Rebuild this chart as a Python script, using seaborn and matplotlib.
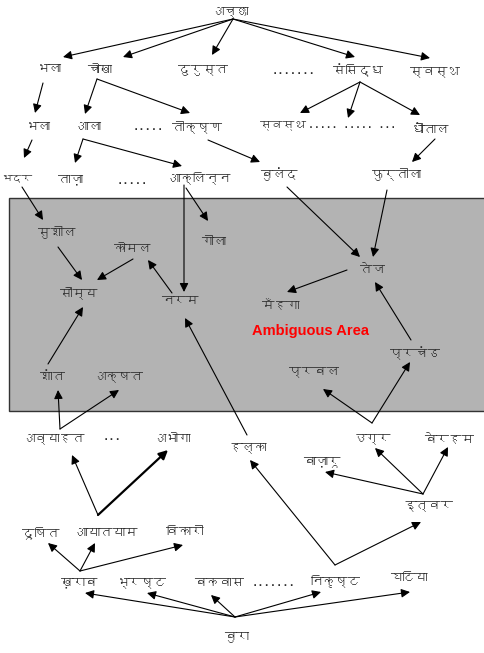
import matplotlib
matplotlib.use('Agg')
import matplotlib.pyplot as plt
import matplotlib.patches as mpatches
from matplotlib import font_manager
from matplotlib.ft2font import FT2Font
import seaborn as sns

# Words of the diagram and where they sit (pixel units of the original picture)
words = ['अच्छा', 'भला', 'चोखा', 'दुरुस्त', '.......', 'संसिद्ध', 'स्वस्थ',
         'भला', 'आला', '.....', 'तीक्ष्ण', 'स्वस्थ', '..... ..... ...', 'धौंताल',
         'भद्र', 'ताज़ा', '.....', 'आक्लिन्न', 'बुलंद', 'फुर्तीला',
         'सुशील', 'कोमल', 'गीला', 'सौम्य', 'नरम', 'तेज', 'मँहगा',
         'प्रचंड', 'प्रबल', 'शांत', 'अक्षत',
         'अव्याहत', '...', 'अभोगा', 'हल्का', 'उग्र', 'बेरहम', 'बाज़ारू', 'इत्वर',
         'दूषित', 'आयातयाम', 'विकारी',
         'ख़राब', 'भ्रष्ट', 'बकवास', '.......', 'निकृष्ट', 'घटिया', 'बुरा']
word_x = [230, 49, 100, 203, 293, 358, 435,
          38, 89, 148, 197, 283, 352, 430,
          17, 70, 132, 200, 279, 397,
          57, 133, 214, 79, 180, 372, 281,
          415, 314, 52, 118,
          53, 112, 172, 248, 372, 449, 322, 428,
          41, 107, 185,
          80, 142, 219, 274, 335, 409, 237]
word_y = [12, 70, 70, 70, 70, 70, 72,
          128, 127, 127, 127, 125, 125, 130,
          178, 180, 181, 178, 174, 174,
          232, 249, 242, 293, 302, 270, 305,
          353, 372, 377, 377,
          439, 437, 439, 448, 439, 439, 462, 506,
          533, 533, 532,
          583, 583, 583, 583, 581, 578, 637]

# Arrows: tail and head points
arrow_x0 = [233, 233, 233, 233, 233, 43, 97, 97, 360, 360, 360, 32, 83, 83, 208, 435,
            22, 184, 186, 287, 387, 58, 133, 172, 347, 411, 48, 60, 60, 247, 372, 372,
            98, 98, 423, 423, 423, 80, 80, 80, 335, 335, 235, 235, 235, 235, 235]
arrow_y0 = [19, 19, 19, 19, 19, 83, 79, 79, 82, 82, 82, 140, 139, 139, 140, 139,
            187, 185, 188, 187, 190, 247, 259, 293, 270, 340, 364, 429, 429, 435, 423, 423,
            515, 515, 494, 494, 494, 571, 571, 571, 565, 565, 617, 617, 617, 617, 617]
arrow_x1 = [63, 123, 212, 355, 430, 35, 85, 190, 300, 348, 420, 24, 75, 182, 260, 412,
            43, 184, 208, 360, 373, 82, 97, 148, 287, 375, 83, 58, 119, 185, 323, 410,
            72, 168, 325, 375, 448, 48, 95, 183, 250, 421, 85, 147, 211, 321, 410]
arrow_y1 = [57, 57, 55, 57, 58, 113, 114, 113, 113, 118, 115, 158, 163, 166, 162, 162,
            220, 292, 221, 257, 257, 280, 280, 260, 292, 282, 307, 390, 390, 318, 389, 362,
            455, 450, 472, 448, 447, 543, 543, 545, 460, 522, 593, 593, 595, 592, 592]
thick_arrows = [33]

area_label = 'Ambiguous Area'
area_x, area_y = 311, 331


def devanagari_family():
    for f in font_manager.fontManager.ttflist:
        try:
            if 0x0905 in FT2Font(f.fname).get_charmap():
                return f.name
        except Exception:
            pass
    return None


sns.set_theme(style='white')
deva = devanagari_family()
families = [deva, 'DejaVu Sans'] if deva else ['DejaVu Sans']
plt.rcParams['font.family'] = families

fig = plt.figure(figsize=(4.84, 6.53), dpi=100)
ax = fig.add_axes([0, 0, 1, 1])
ax.set_xlim(0, 484)
ax.set_ylim(653, 0)
ax.axis('off')

# grey box of the ambiguous area
ax.add_patch(mpatches.Rectangle((9, 198), 485, 213, facecolor='#b3b3b3',
                                edgecolor='#333333', lw=1.0, zorder=0))

labels = []
for w, x, y in zip(words, word_x, word_y):
    labels.append(ax.text(x, y, w, ha='center', va='center', fontsize=9,
                          color='#2e2e2e'))

ax.text(area_x, area_y, area_label, ha='center', va='center', fontsize=10.5,
        fontweight='bold', color='#ff0000', family=['Liberation Sans', 'DejaVu Sans'])

for i, (x0, y0, x1, y1) in enumerate(zip(arrow_x0, arrow_y0, arrow_x1, arrow_y1)):
    lw = 1.6 if i in thick_arrows else 0.8
    ax.annotate('', xy=(x1, y1), xytext=(x0, y0),
                arrowprops=dict(arrowstyle='-|>', color='black', lw=lw,
                                mutation_scale=13, shrinkA=0, shrinkB=0))

# the glyphs come out unshaped (wider); shrink words that collide or leave the page
renderer = fig.canvas.get_renderer()
for _ in range(6):
    boxes = [t.get_window_extent(renderer) for t in labels]
    changed = False
    for i, bi in enumerate(boxes):
        hit = bi.x0 < 1 or bi.x1 > fig.bbox.width - 1
        for j, bj in enumerate(boxes):
            if i != j and bi.x0 < bj.x1 and bj.x0 < bi.x1 and bi.y0 < bj.y1 and bj.y0 < bi.y1:
                hit = True
        if hit and labels[i].get_fontsize() > 7:
            labels[i].set_fontsize(labels[i].get_fontsize() - 0.5)
            changed = True
    if not changed:
        break
for t in labels:
    b = t.get_window_extent(renderer)
    if b.x0 < 1:
        t.set_x(t.get_position()[0] + (1 - b.x0))

fig.savefig('out.png', dpi=100, facecolor='white')
